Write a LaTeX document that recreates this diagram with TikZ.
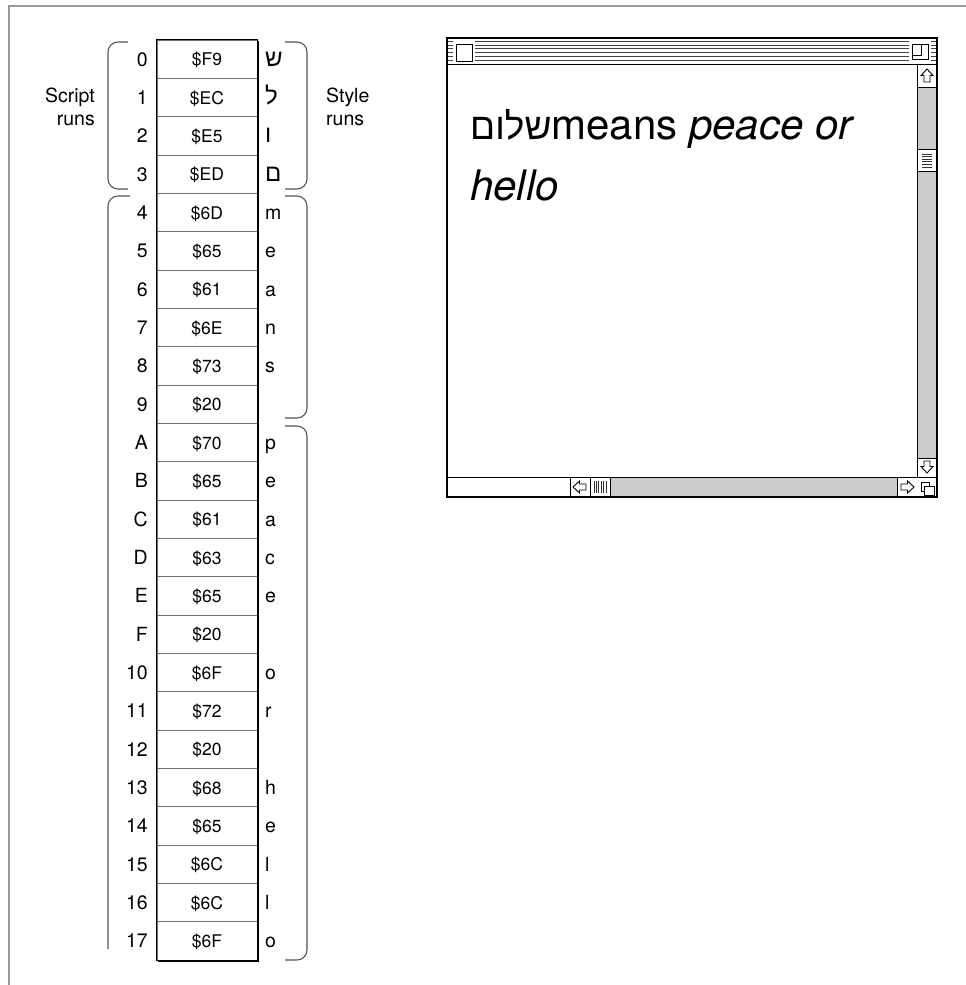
\documentclass[tikz,border=0pt]{standalone}
\usepackage{fontspec}
\setmainfont{TeX Gyre Heros}
\newfontfamily\hebfont[Script=Hebrew]{Liberation Sans}
\TeXXeTstate=1
\usetikzlibrary{calc}
\definecolor{framegray}{HTML}{9A9A9A}
\definecolor{gridgray}{HTML}{707070}
\definecolor{brkgray}{HTML}{555555}
\definecolor{sbgray}{HTML}{CCCCCC}
\begin{document}
\begin{tikzpicture}[x=1pt,y=-1pt,
  idxlab/.style={anchor=base east, inner sep=0pt, font=\fontsize{19.5}{22}\selectfont},
  chlab/.style={anchor=base west, inner sep=0pt, font=\fontsize{19.5}{22}\selectfont},
  hexcell/.style={draw=gridgray, line width=0.9pt, minimum width=100pt, minimum height=38.333pt,
    inner sep=0pt, text height=13pt, text depth=0pt, font=\fontsize{17.5}{20}\selectfont},
  runlab/.style={inner sep=0pt, font=\fontsize{19.5}{23}\selectfont},
  brk/.style={draw=brkgray, line width=1.1pt, rounded corners=10pt},
  wintext/.style={anchor=base west, inner sep=0pt, font=\fontsize{42}{46}\selectfont},
  sbline/.style={draw=black, line width=1pt},
  arrowshape/.style={draw=black, line width=0.9pt, fill=white, line join=miter}
]
\useasboundingbox (0,0) rectangle (966,985);
% outer frame
\draw[framegray, line width=1.3pt] (9,985) -- (9,6) -- (966,6);

% table
\foreach \idx/\hx/\ch [count=\i from 0] in {0/F9/{\hebfont\fontsize{24}{26}\selectfont ש},1/EC/{\hebfont\fontsize{24}{26}\selectfont ל},2/E5/{\hebfont\fontsize{24}{26}\selectfont ו},3/ED/{\hebfont\fontsize{24}{26}\selectfont ם},4/6D/m,5/65/e,6/61/a,7/6E/n,8/73/s,9/20/{},A/70/p,B/65/e,C/61/a,D/63/c,E/65/e,F/20/{},10/6F/o,11/72/r,12/20/{},13/68/h,14/65/e,15/6C/l,16/6C/l,17/6F/o}{
  \node[hexcell] (hex\i) at (207,{59.167+38.333*\i}) {\$\hx};
  \node[idxlab] (idx\i) at (148,{66+38.333*\i}) {\idx};
  \node[chlab] (ch\i) at (265,{66+38.333*\i}) {\ch};
}
\draw[black, line width=1pt] (hex0.north west) rectangle (hex23.south east);
\draw[black, line width=2.4pt] ($(hex0.north east)+(0.8,1)$) -- ($(hex23.south east)+(0.8,0.8)$) -- ($(hex23.south west)+(1.5,0.8)$);

% brackets
\draw[brk] (128,42) -| (108,189) -- (128,189);
\draw[brk] (130,196) -| (108,949);
\draw[brk] (285,42) -| (307,189) -- (285,189);
\draw[brk] (285,196) -| (307,418) -- (285,418);
\draw[brk] (285,426) -| (307,960) -- (285,960);

\node[runlab, align=right, anchor=north east] (scriptruns) at (95,88) {Script\\runs};
\node[runlab, align=left, anchor=north west] (styleruns) at (326,88) {Style\\runs};

% window
\fill[white] (447,38) rectangle (937,497);
% title bar stripes
\foreach \k in {0,...,5}{
  \draw[black!75, line width=0.9pt] (448,{41.5+3.7*\k}) -- (936,{41.5+3.7*\k});
}
\fill[white] (453,41) rectangle (475,63);
\draw[black, line width=1pt, fill=white] (456,44) rectangle (472,61);
\fill[white] (909,41) rectangle (931,63);
\draw[black, line width=1pt, fill=white] (912,44) rectangle (928,59);
\draw[black, line width=0.9pt] (912,55) -| (921,44);
\draw[black, line width=1pt] (447,64) -- (937,64);

% vertical scrollbar
\fill[sbgray] (917,87) rectangle (937,458);
\draw[sbline] (917,64) -- (917,477);
\draw[sbline] (917,87) -- (937,87);
\draw[sbline] (917,458) -- (937,458);
\draw[sbline, fill=white] (917,149) rectangle (937,171);
\foreach \k in {0,...,5}{
  \draw[black!80, line width=0.7pt] (922,{154+2.6*\k}) -- (932,{154+2.6*\k});
}
\draw[arrowshape] (927,69) -- (933,75.5) -- (930,75.5) -- (930,82) -- (924,82) -- (924,75.5) -- (921,75.5) -- cycle;
\draw[arrowshape] (927,473) -- (933,466.5) -- (930,466.5) -- (930,461) -- (924,461) -- (924,466.5) -- (921,466.5) -- cycle;

% horizontal scrollbar
\fill[sbgray] (610,477) rectangle (897,497);
\draw[sbline] (447,477) -- (937,477);
\draw[sbline] (570,477) -- (570,497);
\draw[sbline] (590,477) -- (590,497);
\draw[sbline] (610,477) -- (610,497);
\draw[sbline] (897,477) -- (897,497);
\foreach \k in {0,...,5}{
  \draw[black!80, line width=0.7pt] ({594+2.4*\k},481) -- ({594+2.4*\k},493);
}
\draw[arrowshape] (573,487) -- (579.5,481) -- (579.5,484) -- (586,484) -- (586,490) -- (579.5,490) -- (579.5,493) -- cycle;
\draw[arrowshape] (914,487) -- (907.5,481) -- (907.5,484) -- (901,484) -- (901,490) -- (907.5,490) -- (907.5,493) -- cycle;
% grow box
\draw[black, line width=0.9pt] (921,482) rectangle (929,491);
\draw[black, line width=0.9pt, fill=white] (924,486) rectangle (934,495);

% window frame
\draw[black, line width=1.4pt] (447,38) rectangle (937,497);

% window text
\node[wintext] (line1) at (470,139) {{\hebfont\fontsize{37}{42}\selectfont\beginR שלום\endR}means \textit{peace or}};
\node[wintext] (line2) at (470,200) {\textit{hello}};
\end{tikzpicture}
\end{document}
